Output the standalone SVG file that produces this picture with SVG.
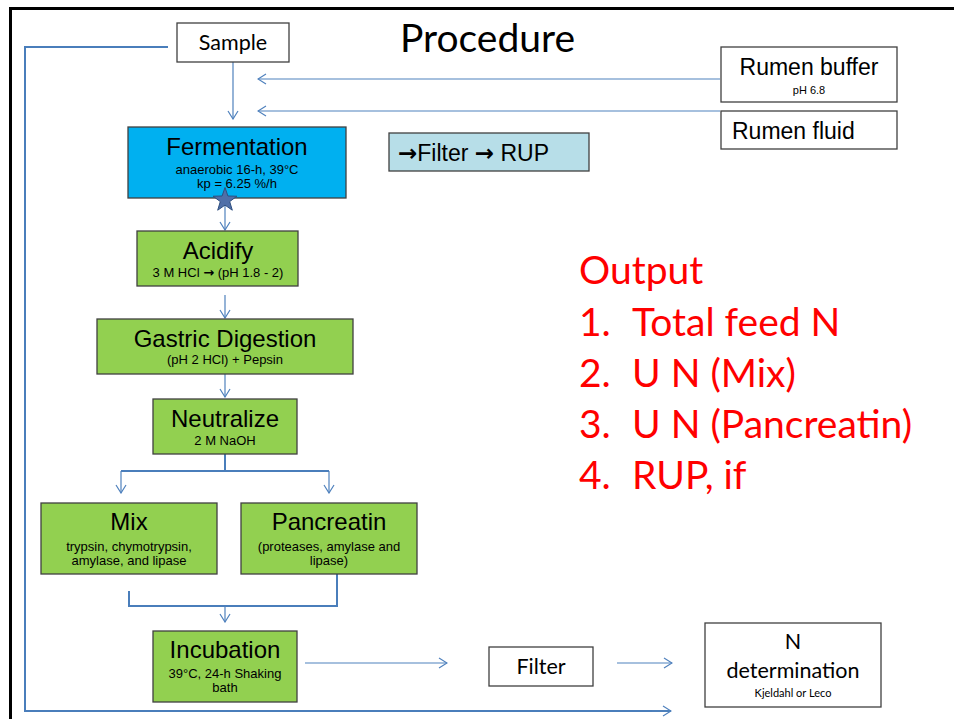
<svg xmlns="http://www.w3.org/2000/svg" width="954" height="719" viewBox="0 0 954 719">
<defs>
<marker id="arr" markerUnits="userSpaceOnUse" markerWidth="12" markerHeight="12" viewBox="0 0 12 12" refX="11" refY="6" orient="auto">
<path d="M3,1 L11,6 L3,11" fill="none" stroke="#4F81BD" stroke-width="1.2"/>
</marker>
<style>
.cal{font-family:Lato,"Open Sans","Noto Sans",sans-serif;fill:#000}
.ar{font-family:"Liberation Sans",Arial,sans-serif;fill:#000}
.sym{font-family:"DejaVu Sans",sans-serif;font-weight:bold}
.box{stroke:#404040;stroke-width:1.3}
.wb{fill:#fff}
.gr{fill:#92D050}
.thin{fill:none;stroke:#4F81BD;stroke-width:1.2}
.thick{fill:none;stroke:#4A7EBB;stroke-width:2}
.red{font-family:Lato,"Open Sans","Noto Sans",sans-serif;fill:#FF0000;font-size:39px}
</style>
</defs>
<rect width="954" height="719" fill="#fff"/>
<path d="M10.5,719 V8.5 H954" fill="none" stroke="#000" stroke-width="3"/>
<text class="cal" x="400" y="52" font-size="39">Procedure</text>

<g id="connectors">
<path class="thick" d="M168,47 H25 V711 H671"/>
<path class="thin" d="M652,711 H671" marker-end="url(#arr)"/>
<path class="thin" d="M233,62 V119" marker-end="url(#arr)"/>
<path class="thin" d="M720,79 H258" marker-end="url(#arr)"/>
<path class="thin" d="M720,111 H258" marker-end="url(#arr)"/>
<path class="thin" d="M225,198 V230" marker-end="url(#arr)"/>
<path class="thin" d="M225,295 V318" marker-end="url(#arr)"/>
<path class="thin" d="M225,374 V397" marker-end="url(#arr)"/>
<path class="thick" d="M225,454 V471 M121,471 H329"/>
<path class="thin" d="M121,471 V493" marker-end="url(#arr)"/>
<path class="thin" d="M329,471 V493" marker-end="url(#arr)"/>
<path class="thick" d="M337,574 V606 H129 V591"/>
<path class="thin" d="M225,606 V622" marker-end="url(#arr)"/>
<path class="thin" d="M305,663 H447" marker-end="url(#arr)"/>
<path class="thin" d="M617,663 H672" marker-end="url(#arr)"/>
</g>

<g id="sample">
<rect class="box wb" x="177" y="23" width="112" height="39"/>
<text class="cal" x="233" y="50" font-size="21.5" text-anchor="middle">Sample</text>
</g>

<g id="rumen-buffer">
<rect class="box wb" x="721" y="47" width="176" height="55"/>
<text class="ar" x="809" y="75" font-size="23" text-anchor="middle">Rumen buffer</text>
<text class="ar" x="809" y="94" font-size="11" text-anchor="middle">pH 6.8</text>
</g>

<g id="rumen-fluid">
<rect class="box wb" x="721" y="111" width="176" height="38"/>
<text class="ar" x="732" y="139" font-size="23">Rumen fluid</text>
</g>

<g id="filter-rup">
<rect class="box" x="389" y="133" width="200" height="38" fill="#B7DEE8"/>
<text class="ar" x="398" y="161" font-size="23"><tspan class="sym" font-size="23">→</tspan>Filter <tspan class="sym" font-size="23">→</tspan> RUP</text>
</g>

<g id="fermentation">
<rect class="box" x="128" y="127" width="218" height="71" fill="#00B0F0"/>
<text class="ar" x="237" y="155" font-size="24" text-anchor="middle">Fermentation</text>
<text class="ar" x="237" y="174" font-size="13" text-anchor="middle">anaerobic 16-h, 39°C</text>
<text class="ar" x="237" y="188" font-size="13" text-anchor="middle">kp = 6.25 %/h</text>
<polygon points="225,187.5 227.9,196 236.9,196.2 229.7,201.6 232.3,210.2 225,205.1 217.7,210.2 220.3,201.6 213.1,196.2 222.1,196" fill="#4F6FA8" stroke="#2F4F80" stroke-width="1"/>
</g>

<g id="acidify">
<rect class="box gr" x="137" y="231" width="161" height="55"/>
<text class="ar" x="218" y="259" font-size="24" text-anchor="middle">Acidify</text>
<text class="ar" x="218" y="277" font-size="13" text-anchor="middle">3 M HCl <tspan class="sym" font-size="13">→</tspan> (pH 1.8 - 2)</text>
</g>

<g id="gastric">
<rect class="box gr" x="97" y="319" width="256" height="55"/>
<text class="ar" x="225" y="347" font-size="24" text-anchor="middle">Gastric Digestion</text>
<text class="ar" x="225" y="364" font-size="13" text-anchor="middle">(pH 2 HCl) + Pepsin</text>
</g>

<g id="neutralize">
<rect class="box gr" x="153" y="399" width="144" height="55"/>
<text class="ar" x="225" y="427" font-size="24" text-anchor="middle">Neutralize</text>
<text class="ar" x="225" y="445" font-size="13" text-anchor="middle">2 M NaOH</text>
</g>

<g id="mix">
<rect class="box gr" x="41" y="503" width="176" height="71"/>
<text class="ar" x="129" y="530" font-size="24" text-anchor="middle">Mix</text>
<text class="ar" x="129" y="551" font-size="13" text-anchor="middle">trypsin, chymotrypsin,</text>
<text class="ar" x="129" y="565" font-size="13" text-anchor="middle">amylase, and lipase</text>
</g>

<g id="pancreatin">
<rect class="box gr" x="241" y="503" width="176" height="71"/>
<text class="ar" x="329" y="530" font-size="24" text-anchor="middle">Pancreatin</text>
<text class="ar" x="329" y="551" font-size="13" text-anchor="middle">(proteases, amylase and</text>
<text class="ar" x="329" y="565" font-size="13" text-anchor="middle">lipase)</text>
</g>

<g id="incubation">
<rect class="box gr" x="153" y="631" width="144" height="71"/>
<text class="ar" x="225" y="658" font-size="24" text-anchor="middle">Incubation</text>
<text class="ar" x="225" y="678" font-size="13" text-anchor="middle">39°C, 24-h Shaking</text>
<text class="ar" x="225" y="692" font-size="13" text-anchor="middle">bath</text>
</g>

<g id="filter">
<rect class="box wb" x="489" y="647" width="104" height="39"/>
<text class="cal" x="541" y="674" font-size="21.5" text-anchor="middle">Filter</text>
</g>

<g id="n-determination">
<rect class="box wb" x="705" y="623" width="176" height="84"/>
<text class="cal" x="793" y="649" font-size="21.5" text-anchor="middle">N</text>
<text class="cal" x="793" y="678" font-size="21.5" text-anchor="middle">determination</text>
<text class="cal" x="793" y="697" font-size="11" text-anchor="middle">Kjeldahl or Leco</text>
</g>

<g id="output">
<text class="red" x="579" y="284">Output</text>
<text class="red" x="579" y="336">1.</text><text class="red" x="632" y="336">Total feed N</text>
<text class="red" x="579" y="387">2.</text><text class="red" x="632" y="387">U N (Mix)</text>
<text class="red" x="579" y="438">3.</text><text class="red" x="632" y="438">U N (Pancreatin)</text>
<text class="red" x="579" y="489">4.</text><text class="red" x="632" y="489">RUP, if</text>
</g>
</svg>
